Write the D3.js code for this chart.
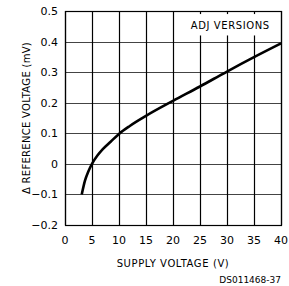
<!DOCTYPE html>
<html>
<head>
<meta charset="utf-8">
<script src="https://cdn.jsdelivr.net/npm/d3@7"></script>
<style>
  body { margin: 0; background: #fff; }
  text { font-family: "DejaVu Sans", sans-serif; fill: #000; }
</style>
</head>
<body>
<div id="chart"></div>
<script>
// supply voltage (V) and delta reference voltage (mV)
const supplyV = [3.1, 3.7, 4.3, 5, 6, 7, 8.5, 10, 12, 15, 20, 25, 30, 35, 40];
const deltaRef = [-0.1, -0.055, -0.026, 0.0, 0.027, 0.048, 0.073, 0.098, 0.124, 0.157, 0.206, 0.253, 0.302, 0.349, 0.394];
const xTicks = [0, 5, 10, 15, 20, 25, 30, 35, 40];
const yTicks = [-0.2, -0.1, 0, 0.1, 0.2, 0.3, 0.4, 0.5];

const width = 289, height = 286;
const margin = {top: 11, right: 8, bottom: 61, left: 65};

const svg = d3.select('#chart').append('svg')
    .attr('width', width)
    .attr('height', height);

const x = d3.scaleLinear().domain([0, 40]).range([margin.left, width - margin.right]);
const y = d3.scaleLinear().domain([-0.2, 0.5]).range([height - margin.bottom, margin.top]);

// horizontal grid
svg.append('g')
    .selectAll('line')
    .data(yTicks)
    .join('line')
    .attr('x1', x(0)).attr('x2', x(40))
    .attr('y1', d => Math.round(y(d)) + 0.5)
    .attr('y2', d => Math.round(y(d)) + 0.5)
    .attr('stroke', '#444')
    .attr('stroke-width', 1);

// vertical grid
svg.append('g')
    .selectAll('line')
    .data(xTicks)
    .join('line')
    .attr('x1', d => Math.round(x(d)) + 0.5)
    .attr('x2', d => Math.round(x(d)) + 0.5)
    .attr('y1', y(0.5)).attr('y2', y(-0.2))
    .attr('stroke', '#000')
    .attr('stroke-width', 1.2);

// label box covering the grid
svg.append('rect')
    .attr('x', x(22.6)).attr('y', y(0.49))
    .attr('width', x(38.7) - x(22.6))
    .attr('height', y(0.42) - y(0.49))
    .attr('fill', '#fff');

svg.append('text')
    .attr('x', x(30.6)).attr('y', y(0.455) + 4)
    .attr('text-anchor', 'middle')
    .attr('font-size', 10)
    .attr('letter-spacing', 0.6)
    .text('ADJ VERSIONS');

// frame
svg.append('rect')
    .attr('x', x(0) + 0.5).attr('y', y(0.5) + 0.5)
    .attr('width', x(40) - x(0))
    .attr('height', y(-0.2) - y(0.5))
    .attr('fill', 'none')
    .attr('stroke', '#000')
    .attr('stroke-width', 1.2);

// curve
const line = d3.line()
    .x((d, i) => x(supplyV[i]))
    .y(d => y(d))
    .curve(d3.curveMonotoneX);

svg.append('path')
    .datum(deltaRef)
    .attr('d', line)
    .attr('fill', 'none')
    .attr('stroke', '#000')
    .attr('stroke-width', 2.6);

// tick labels
svg.append('g')
    .selectAll('text')
    .data(yTicks)
    .join('text')
    .attr('x', x(0) - 7)
    .attr('y', d => y(d) + 4)
    .attr('text-anchor', 'end')
    .attr('font-size', 11)
    .text(d => d === 0 ? '0' : d3.format('.1f')(d).replace('-', '\u2212'));

svg.append('g')
    .selectAll('text')
    .data(xTicks)
    .join('text')
    .attr('x', d => x(d))
    .attr('y', y(-0.2) + 19)
    .attr('text-anchor', 'middle')
    .attr('font-size', 11)
    .text(d => d);

// axis titles
svg.append('text')
    .attr('x', x(20))
    .attr('y', y(-0.2) + 42)
    .attr('text-anchor', 'middle')
    .attr('font-size', 10)
    .attr('letter-spacing', 0.6)
    .text('SUPPLY VOLTAGE (V)');

svg.append('text')
    .attr('transform', 'translate(30,' + y(0.15) + ') rotate(-90)')
    .attr('text-anchor', 'middle')
    .attr('font-size', 10)
    .attr('letter-spacing', 0.3)
    .text('\u0394 REFERENCE VOLTAGE (mV)');

svg.append('text')
    .attr('x', 281)
    .attr('y', 283)
    .attr('text-anchor', 'end')
    .attr('font-size', 9)
    .text('DS011468-37');
</script>
</body>
</html>
